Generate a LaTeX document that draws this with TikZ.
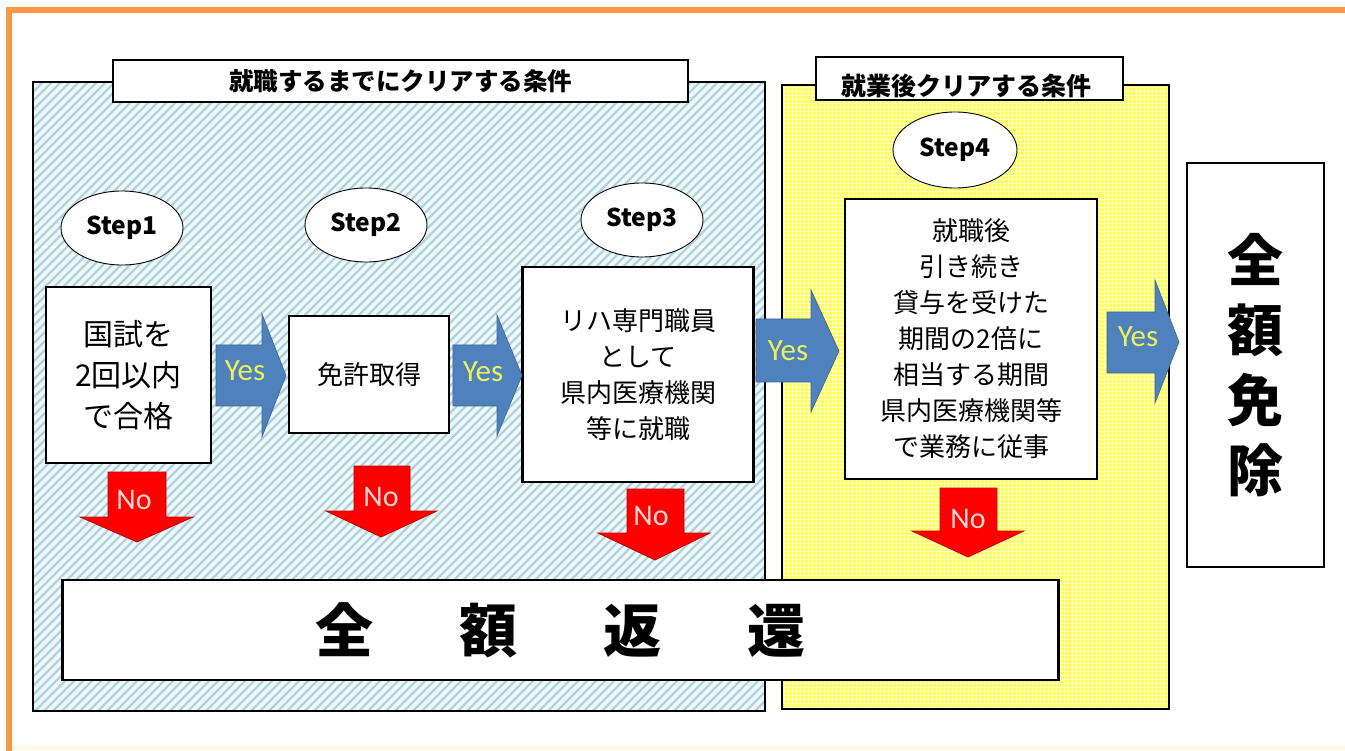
\documentclass[tikz,border=0pt]{standalone}
\usepackage{fontspec}
\usetikzlibrary{shapes.geometric}
\newfontfamily\jpfont{Noto Sans CJK JP}
\newfontfamily\calfont{Carlito}
\definecolor{orng}{RGB}{247,150,70}
\definecolor{cream}{RGB}{255,248,228}
\definecolor{hatchbg}{RGB}{238,248,251}
\definecolor{hatchln}{RGB}{178,210,220}
\definecolor{ylw}{RGB}{255,255,85}
\definecolor{ylwln}{RGB}{255,255,200}
\definecolor{blu}{RGB}{79,129,189}
\definecolor{bluedge}{RGB}{60,100,150}
\definecolor{yestxt}{RGB}{236,240,90}
\definecolor{notxt}{RGB}{255,215,210}
\definecolor{redfill}{RGB}{255,0,0}
\definecolor{rededge}{RGB}{190,0,0}
\tikzset{
  panel/.style={draw=black, line width=2.6},
  titlebox/.style={draw=black, fill=white, line width=2.4, inner sep=0},
  stepoval/.style={ellipse, draw=black, fill=white, line width=0.9, inner sep=0,
    minimum width=122, minimum height=74, font=\jpfont\bfseries\fontsize{24.5}{26}\selectfont},
  textbox/.style={draw=black, fill=white, line width=2.4, inner sep=0, align=center},
  yesarrow/.style={fill=blu, draw=bluedge, line width=0.6},
  noarrow/.style={fill=redfill, draw=rededge, line width=0.8},
  yeslbl/.style={text=yestxt, font=\calfont\fontsize{31}{32}\selectfont, inner sep=0},
  nolbl/.style={text=notxt, font=\calfont\fontsize{30}{32}\selectfont, inner sep=0},
}
\begin{document}
\begin{tikzpicture}[x=1pt,y=-1pt]
\useasboundingbox (0,0) rectangle (1345,751);
% outer frame
\draw[cream, line width=4] (9,748) -- (1360,748);
\draw[orng, line width=6] (1360,10) -- (9,10) -- (9,760);
% hatched panel
\fill[hatchbg] (33,82) rectangle (765,711);
\begin{scope}
  \clip (33,82) rectangle (765,711);
  \foreach \i in {-640,-631,...,770} {
    \draw[hatchln, line width=2.4] (\i,711) -- ++(629,-629);
  }
  \draw[white, line width=1.2, dash pattern=on 5pt off 4pt] (33,247) -- (765,247);
\end{scope}
\draw[panel] (33,82) rectangle (765,711);
% yellow grid panel
\fill[ylw] (782,85) rectangle (1169,709);
\begin{scope}
  \clip (782,85) rectangle (1169,709);
  \foreach \i in {784,788,...,1169} { \draw[ylwln, line width=0.9] (\i,85) -- (\i,709); }
  \foreach \j in {87,91,...,709} { \draw[ylwln, line width=0.9] (782,\j) -- (1169,\j); }
\end{scope}
\draw[panel] (782,85) rectangle (1169,709);
% titles
\node[titlebox, minimum width=575, minimum height=42] (t1) at (400.5,81)
  {\jpfont\bfseries\fontsize{24.5}{26}\selectfont 就職するまでにクリアする条件};
\node[titlebox, minimum width=307, minimum height=43] (t2) at (969.5,78.5) {};
\node[font=\jpfont\bfseries\fontsize{25}{26}\selectfont, inner sep=0] (t2txt) at (966,86) {就業後クリアする条件};
% step ovals
\node[stepoval] (s1) at (122,228) {Step1};
\node[stepoval] (s2) at (366,225) {Step2};
\node[stepoval] (s3) at (642,220) {Step3};
\node[stepoval, minimum width=124, minimum height=76] (s4) at (955,150) {Step4};
% boxes
\node[textbox, minimum width=165, minimum height=176, font=\jpfont\fontsize{30}{41}\selectfont] (b1) at (128.5,375)
  {国試を\\2回以内\\で合格};
\node[textbox, minimum width=160, minimum height=117, font=\jpfont\fontsize{26}{30}\selectfont] (b2) at (369,374.5)
  {免許取得};
\node[textbox, minimum width=231, minimum height=215, font=\jpfont\fontsize{26}{36}\selectfont] (b3) at (638,374.5)
  {リハ専門職員\\として\\県内医療機関\\等に就職};
\node[textbox, minimum width=252, minimum height=280, font=\jpfont\fontsize{26}{36}\selectfont] (b4) at (971,339)
  {就職後\\引き続き\\貸与を受けた\\期間の2倍に\\相当する期間\\県内医療機関等\\で業務に従事};
\node[textbox, minimum width=137, minimum height=404, font=\jpfont\bfseries\fontsize{56}{70}\selectfont] (free) at (1255.5,365)
  {全\\額\\免\\除};
\node[textbox, minimum width=996, minimum height=100, font=\jpfont\bfseries\fontsize{58}{60}\selectfont] (repay) at (560.5,630)
  {全\hspace{86pt}額\hspace{86pt}返\hspace{86pt}還};
% yes arrows
\draw[yesarrow] (216,345) -- (262,345) -- (262,314) -- (286,375.5) -- (262,437) -- (262,406) -- (216,406) -- cycle;
\node[yeslbl] (y1) at (245,371) {Yes};
\draw[yesarrow] (453,345) -- (497,345) -- (497,315) -- (522,375.5) -- (497,436) -- (497,406) -- (453,406) -- cycle;
\node[yeslbl] (y2) at (483,372) {Yes};
\draw[yesarrow] (756,319) -- (811,319) -- (811,290) -- (839,351) -- (811,412) -- (811,382) -- (756,382) -- cycle;
\node[yeslbl] (y3) at (788,351) {Yes};
\draw[yesarrow] (1107,312) -- (1155,312) -- (1155,280) -- (1179,342) -- (1155,403) -- (1155,373) -- (1107,373) -- cycle;
\node[yeslbl] (y4) at (1138,337) {Yes};
% no arrows
\draw[noarrow] (108,472) -- (166,472) -- (166,517) -- (193,517) -- (137,542) -- (80,517) -- (108,517) -- cycle;
\node[nolbl] (n1) at (134,500) {No};
\draw[noarrow] (354,466) -- (410,466) -- (410,511) -- (437,511) -- (381,537) -- (326,511) -- (354,511) -- cycle;
\node[nolbl] (n2) at (381,497) {No};
\draw[noarrow] (627,489) -- (684,489) -- (684,533) -- (710,533) -- (655,560) -- (598,533) -- (627,533) -- cycle;
\node[nolbl] (n3) at (651,516) {No};
\draw[noarrow] (940,488) -- (997,488) -- (997,531) -- (1024,531) -- (968,557) -- (912,531) -- (940,531) -- cycle;
\node[nolbl] (n4) at (968,519) {No};
\end{tikzpicture}
\end{document}
